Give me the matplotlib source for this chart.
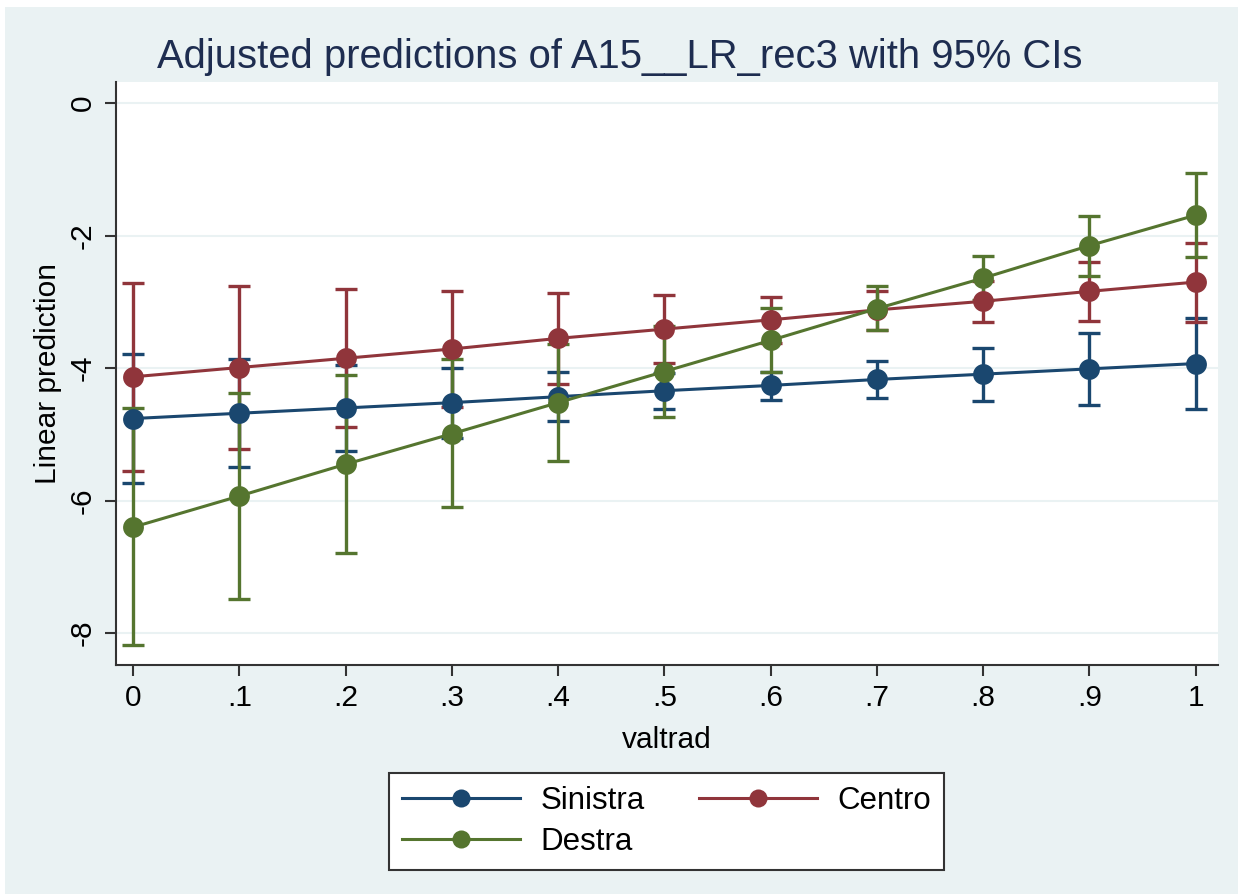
import numpy as np
import matplotlib.pyplot as plt
from matplotlib.patches import Rectangle

plt.rcParams['font.family'] = ['Liberation Sans', 'DejaVu Sans']

# ---- dati ----
valtrad = [0, .1, .2, .3, .4, .5, .6, .7, .8, .9, 1]
tick_lab_x = ['0', '.1', '.2', '.3', '.4', '.5', '.6', '.7', '.8', '.9', '1']
tick_y = [0, -2, -4, -6, -8]

sinistra    = [-4.76, -4.68, -4.60, -4.52, -4.43, -4.34, -4.26, -4.17, -4.09, -4.01, -3.93]
sinistra_lo = [-5.73, -5.49, -5.25, -5.05, -4.80, -4.61, -4.48, -4.45, -4.50, -4.56, -4.61]
sinistra_hi = [-3.79, -3.86, -3.95, -3.99, -4.05, -4.07, -4.05, -3.89, -3.69, -3.47, -3.24]

centro    = [-4.13, -3.99, -3.85, -3.71, -3.55, -3.41, -3.27, -3.12, -2.99, -2.84, -2.70]
centro_lo = [-5.55, -5.22, -4.89, -4.58, -4.24, -3.92, -3.62, -3.43, -3.30, -3.29, -3.30]
centro_hi = [-2.71, -2.76, -2.80, -2.83, -2.87, -2.90, -2.92, -2.83, -2.68, -2.40, -2.11]

destra    = [-6.40, -5.93, -5.45, -4.99, -4.52, -4.05, -3.58, -3.10, -2.64, -2.15, -1.69]
destra_lo = [-8.18, -7.49, -6.79, -6.09, -5.40, -4.73, -4.05, -3.43, -2.97, -2.61, -2.32]
destra_hi = [-4.60, -4.37, -4.11, -3.86, -3.64, -3.37, -3.09, -2.76, -2.31, -1.71, -1.06]

serie = [
    ('Sinistra', sinistra, sinistra_lo, sinistra_hi, '#1A476F'),
    ('Centro',   centro,   centro_lo,   centro_hi,   '#90353B'),
    ('Destra',   destra,   destra_lo,   destra_hi,   '#55752F'),
]

BG = '#EAF2F3'

fig = plt.figure(figsize=(12.38, 8.94), dpi=100, facecolor='white')
fig.patches.append(Rectangle((5 / 1238, 0), 1, 1 - 7 / 894, transform=fig.transFigure,
                             facecolor=BG, edgecolor='none', zorder=-10))

ax = fig.add_axes([116 / 1238, 1 - 665 / 894, (1218 - 116) / 1238, (665 - 82) / 894])
ax.set_facecolor('white')

# intervalli di confidenza (rcap)
for nome, y, lo, hi, col in serie:
    y = np.array(y)
    err = [y - np.array(lo), np.array(hi) - y]
    ax.errorbar(valtrad, y, yerr=err, fmt='none', ecolor=col, elinewidth=2.4,
                capsize=8, capthick=2.4, zorder=2)

# linee con marcatori
linee = {}
for nome, y, lo, hi, col in serie:
    l, = ax.plot(valtrad, y, '-o', color=col, lw=2.2, markersize=15,
                 markeredgewidth=0, label=nome, zorder=3)
    linee[nome] = l

ax.set_xlim(-0.016, 1.021)
ax.set_ylim(-8.48, 0.32)
ax.set_xticks(valtrad)
ax.set_xticklabels(tick_lab_x)
ax.set_yticks(tick_y)
ax.set_yticklabels([str(t) for t in tick_y], rotation=90, va='center')
ax.grid(axis='y', color=BG, lw=1.5)
ax.set_axisbelow(True)
ax.tick_params(axis='both', labelsize=21.5, length=8, width=1.5, color='#333333', pad=6)
for s in ['top', 'right']:
    ax.spines[s].set_visible(False)
for s in ['left', 'bottom']:
    ax.spines[s].set_color('#333333')
    ax.spines[s].set_linewidth(1.5)

ax.set_xlabel('valtrad', fontsize=21.5, labelpad=10)
ax.set_ylabel('Linear prediction', fontsize=21.5, labelpad=5)

fig.text(620 / 1238, 1 - 57 / 894, 'Adjusted predictions of A15__LR_rec3 with 95% CIs',
         ha='center', va='center', fontsize=28.8, color='#1E2D50')

# ordine colonne: Sinistra/Destra a sinistra, Centro a destra
ordine = ['Sinistra', 'Destra', 'Centro']
leg = fig.legend(handles=[linee[n] for n in ordine], labels=ordine,
                 loc='center', bbox_to_anchor=(666.5 / 1238, 1 - 821.5 / 894), ncol=2,
                 fontsize=22.5, frameon=True, fancybox=False, handlelength=3.78,
                 handletextpad=0.64, columnspacing=1.73, labelspacing=0.35,
                 borderpad=0.42, borderaxespad=0, framealpha=1)
leg.get_frame().set_edgecolor('#333333')
leg.get_frame().set_facecolor('white')
leg.get_frame().set_linewidth(1.5)
for h in leg.legend_handles:
    h.set_markersize(13)

plt.savefig('out.png', dpi=100, facecolor=fig.get_facecolor())
